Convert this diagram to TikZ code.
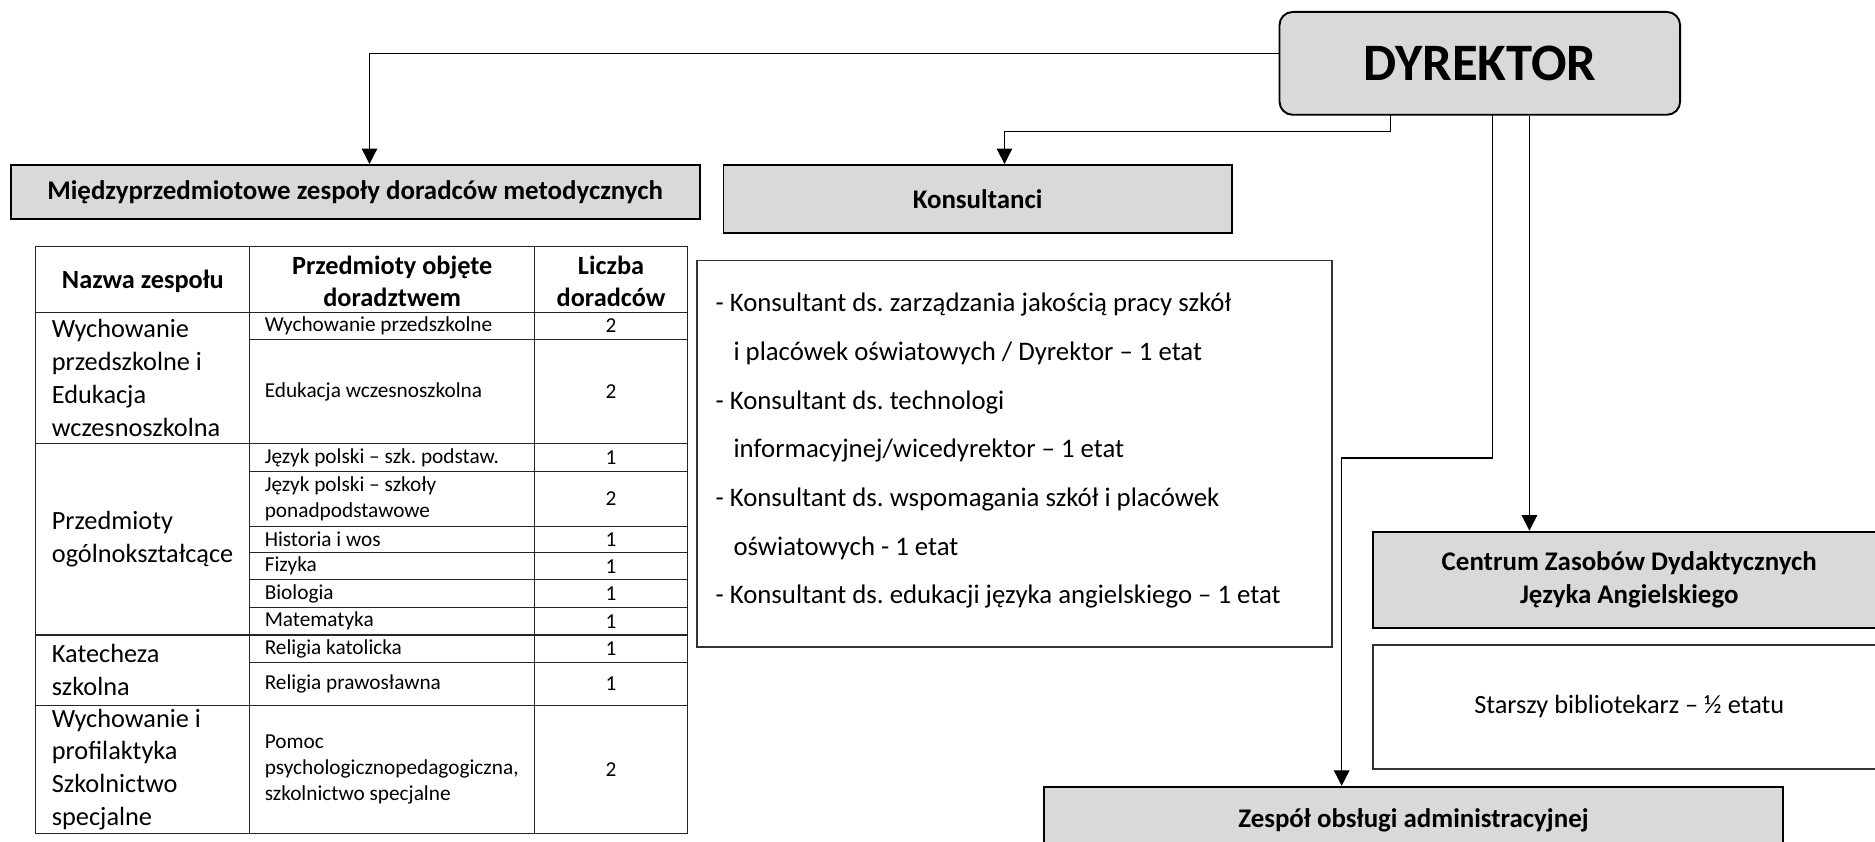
\documentclass[tikz,border=0pt]{standalone}
\usepackage{fontspec}
\setmainfont{Carlito}
\usepackage{tikz}
\usetikzlibrary{arrows.meta}
\definecolor{boxgray}{HTML}{D9D9D9}
\frenchspacing
\tikzset{
	graybox/.style={draw=black,line width=0.8pt,fill=boxgray,rectangle,inner sep=0pt,align=center,font=\fontsize{11.25}{13.8}\selectfont\bfseries},
	whitebox/.style={draw=black!80,line width=0.6pt,fill=white,rectangle,inner sep=0pt},
	ln/.style={line width=0.55pt,line cap=rect},
	arr/.style={line width=0.55pt,-{Triangle[width=6.5pt,length=6.5pt]}},
	tline/.style={line width=0.45pt,draw=black!85},
	hcell/.style={inner sep=0pt,align=center,font=\fontsize{11}{13.3}\selectfont\bfseries},
	gcell/.style={inner sep=0pt,align=left,anchor=west,font=\fontsize{11}{13.75}\selectfont},
	pcell/.style={inner sep=0pt,align=left,anchor=west,font=\fontsize{8.9}{10.85}\selectfont},
	ncell/.style={inner sep=0pt,font=\fontsize{8.9}{10.85}\selectfont}
}

\begin{document}
\begin{tikzpicture}[x=0.5pt,y=-0.5pt]
	\useasboundingbox (0,0) rectangle (1568,704);
	\clip (0,0) rectangle (1568,704);
	\node[graybox,rounded corners=5.5pt,minimum width=167.5pt,minimum height=43pt,font=\fontsize{22}{26}\selectfont\bfseries] (dyr) at (1237.5,53) {DYREKTOR};
	\node[graybox,minimum width=288pt,minimum height=22.5pt] (mzd) at (297,160.5) {Międzyprzedmiotowe zespoły doradców metodycznych};
	\node[graybox,minimum width=212.5pt,minimum height=28.5pt] (kons) at (817.5,166.5) {Konsultanci};
	\node[whitebox,minimum width=265.5pt,minimum height=161.5pt] (klist) at (848.5,379.5) {};
	\node[anchor=west,inner sep=0pt,align=left,font=\fontsize{11.2}{20.33}\selectfont] (kltext) at (598,377) {- Konsultant ds. zarządzania jakością pracy szkół\\
		\hspace*{7.5pt}i placówek oświatowych / Dyrektor – 1 etat\\
		- Konsultant ds. technologi\\
		\hspace*{7.5pt}informacyjnej/wicedyrektor – 1 etat\\
		- Konsultant ds. wspomagania szkół i placówek\\
		\hspace*{7.5pt}oświatowych - 1 etat\\
		- Konsultant ds. edukacji języka angielskiego – 1 etat};
	\node[graybox,minimum width=214.5pt,minimum height=40.2pt] (czd) at (1362.5,484.8) {Centrum Zasobów Dydaktycznych\\Języka Angielskiego};
	\node[whitebox,minimum width=214.5pt,minimum height=51.8pt,font=\fontsize{11}{13.4}\selectfont] (sbib) at (1362.5,591.2) {Starszy bibliotekarz – ½ etatu};
	\node[graybox,minimum width=309pt,minimum height=28pt] (zesp) at (1182,686) {Zespół obsługi administracyjnej};
	\coordinate (k1) at (309,45);
	\coordinate (k2) at (1163,110);
	\coordinate (k3) at (840,110);
	\coordinate (k4) at (1248,383);
	\coordinate (k5) at (1122,383);
	\coordinate (k6) at (1279,300);
	\path
	(dyr.west |- k1) edge[ln] (k1)
	(k1) edge[arr] (mzd.north -| k1)
	(dyr.south -| k2) edge[ln] (k2)
	(k2) edge[ln] (k3)
	(k3) edge[arr] (kons.north -| k3)
	(dyr.south -| k4) edge[ln] (k4)
	(k4) edge[ln] (k5)
	(k5) edge[arr] (zesp.north -| k5)
	(dyr.south -| k6) edge[arr] (czd.north -| k6)
	;
	\draw[tline] (30,206) rectangle (575,697);
	\draw[tline] (209,206) -- (209,697);
	\draw[tline] (447,206) -- (447,697);
	\draw[tline] (30,261) -- (575,261);
	\draw[tline] (30,371) -- (575,371);
	\draw[tline] (30,531) -- (575,531);
	\draw[tline] (30,590) -- (575,590);
	\draw[tline] (209,284) -- (575,284);
	\draw[tline] (209,394) -- (575,394);
	\draw[tline] (209,440) -- (575,440);
	\draw[tline] (209,462) -- (575,462);
	\draw[tline] (209,485) -- (575,485);
	\draw[tline] (209,508) -- (575,508);
	\draw[tline] (209,554) -- (575,554);
	\node[hcell] (h1) at (119.5,235) {Nazwa zespołu};
	\node[hcell] (h2) at (328,235) {Przedmioty objęte\\doradztwem};
	\node[hcell] (h3) at (511,235) {Liczba\\doradców};
	\node[gcell] (g1) at (43,316) {Wychowanie\\przedszkolne i\\Edukacja\\wczesnoszkolna};
	\node[gcell] (g2) at (43,451) {Przedmioty\\ogólnokształcące};
	\node[gcell] (g3) at (43,560.5) {Katecheza\\szkolna};
	\node[gcell] (g4) at (43,643.5) {Wychowanie i\\profilaktyka\\Szkolnictwo\\specjalne};
	\node[pcell] (p1) at (221,272.5) {Wychowanie przedszkolne};
	\node[pcell] (p2) at (221,327.5) {Edukacja wczesnoszkolna};
	\node[pcell] (p3) at (221,382.5) {Język polski – szk. podstaw.};
	\node[pcell] (p4) at (221,417) {Język polski – szkoły\\ponadpodstawowe};
	\node[pcell] (p5) at (221,451) {Historia i wos};
	\node[pcell] (p6) at (221,473.5) {Fizyka};
	\node[pcell] (p7) at (221,496.5) {Biologia};
	\node[pcell] (p8) at (221,519.5) {Matematyka};
	\node[pcell] (p9) at (221,542.5) {Religia katolicka};
	\node[pcell] (p10) at (221,572) {Religia prawosławna};
	\node[pcell] (p11) at (221,643.5) {Pomoc\\psychologicznopedagogiczna,\\szkolnictwo specjalne};
	\node[ncell] (n1) at (511,272.5) {2};
	\node[ncell] (n2) at (511,327.5) {2};
	\node[ncell] (n3) at (511,382.5) {1};
	\node[ncell] (n4) at (511,417) {2};
	\node[ncell] (n5) at (511,451) {1};
	\node[ncell] (n6) at (511,473.5) {1};
	\node[ncell] (n7) at (511,496.5) {1};
	\node[ncell] (n8) at (511,519.5) {1};
	\node[ncell] (n9) at (511,542.5) {1};
	\node[ncell] (n10) at (511,572) {1};
	\node[ncell] (n11) at (511,643.5) {2};
\end{tikzpicture}
\end{document}
